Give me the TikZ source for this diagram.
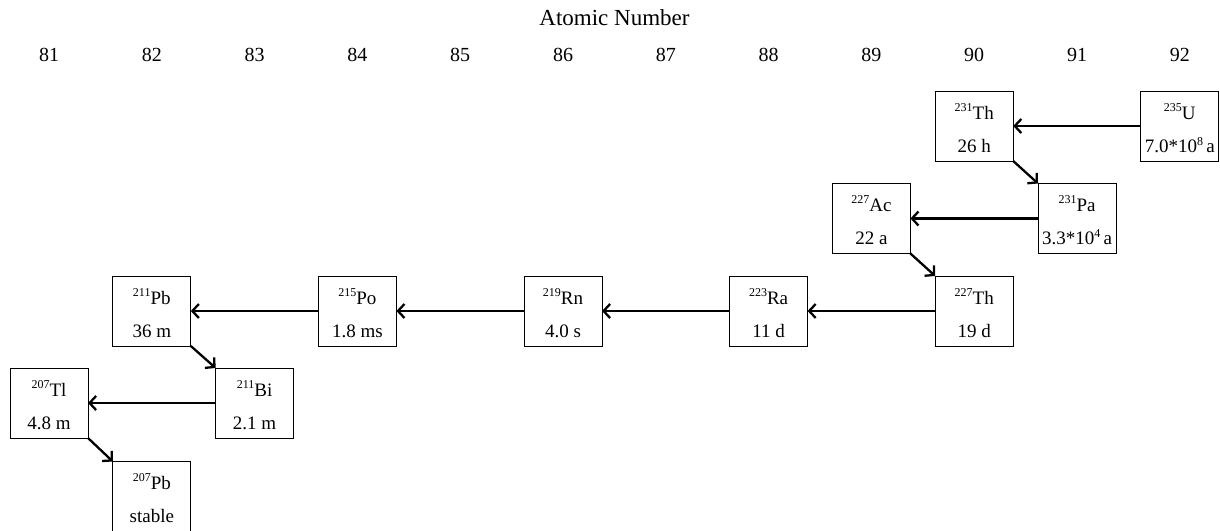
\documentclass[tikz,border=0pt]{standalone}
\usepackage{fontspec}
\setmainfont{Liberation Serif}
\usetikzlibrary{arrows.meta}

% isotope symbol with a raised mass number
\newcommand\isotope[2]{\raisebox{8pt}{\fontsize{12}{12}\selectfont #1}#2}
% power of ten with a raised exponent
\newcommand\powten[1]{10\raisebox{7pt}{\fontsize{12}{12}\selectfont #1}}

\begin{document}
\begin{tikzpicture}[x=1pt,y=-1pt,
  nuclide/.style={draw,line width=1pt,minimum width=78pt,minimum height=70pt,
                  inner sep=0pt,outer sep=0pt},
  line1/.style={anchor=base,inner sep=0pt,font=\fontsize{19}{19}\selectfont},
  zlabel/.style={anchor=base,inner sep=0pt,font=\fontsize{20}{20}\selectfont},
  decay/.style={line width=2.3pt,-{Straight Barb[length=6.5pt,width=14pt,line width=2.3pt]}}
]
\useasboundingbox (0,0) rectangle (1220,530);

% axis title and atomic numbers
\node[anchor=base,inner sep=0pt,font=\fontsize{23}{23}\selectfont] (title) at (614.5,25) {Atomic Number};
\foreach \z [count=\i from 0] in {81,...,92}
  \node[zlabel] (z\z) at (49+\i*102.8,61) {\z};

% nuclide boxes: name, position, symbol, half-life
\foreach \nm/\px/\py/\sym/\half in {
   u235/1179.8/126/{\isotope{235}{U}}/{7.0*\powten{8}\,a},
   th231/974.2/126/{\isotope{231}{Th}}/{26 h},
   pa231/1077/218.5/{\isotope{231}{Pa}}/{3.3*\powten{4}\,a},
   ac227/871.4/218.5/{\isotope{227}{Ac}}/{22 a},
   th227/974.2/311/{\isotope{227}{Th}}/{19 d},
   ra223/768.6/311/{\isotope{223}{Ra}}/{11 d},
   rn219/563/311/{\isotope{219}{Rn}}/{4.0 s},
   po215/357.4/311/{\isotope{215}{Po}}/{1.8 ms},
   pb211/151.8/311/{\isotope{211}{Pb}}/{36 m},
   bi211/254.6/403/{\isotope{211}{Bi}}/{2.1 m},
   tl207/49/403/{\isotope{207}{Tl}}/{4.8 m},
   pb207/151.8/496.5/{\isotope{207}{Pb}}/{stable}}
{
  \node[nuclide] (\nm) at (\px,\py) {};
  \node[line1] (\nm-sym) at ([yshift=-28pt]\nm.north) {\sym};
  \node[line1] (\nm-half) at ([yshift=-61pt]\nm.north) {\half};
}

% decay chain
\draw[decay] (u235.west) -- (th231.east);
\draw[decay] (th231.south east) -- (pa231.north west);
\draw[decay] (pa231.west) -- (ac227.east);
\draw[decay] (ac227.south east) -- (th227.north west);
\draw[decay] (th227.west) -- (ra223.east);
\draw[decay] (ra223.west) -- (rn219.east);
\draw[decay] (rn219.west) -- (po215.east);
\draw[decay] (po215.west) -- (pb211.east);
\draw[decay] (pb211.south east) -- (bi211.north west);
\draw[decay] (bi211.west) -- (tl207.east);
\draw[decay] (tl207.south east) -- (pb207.north west);
\end{tikzpicture}
\end{document}
